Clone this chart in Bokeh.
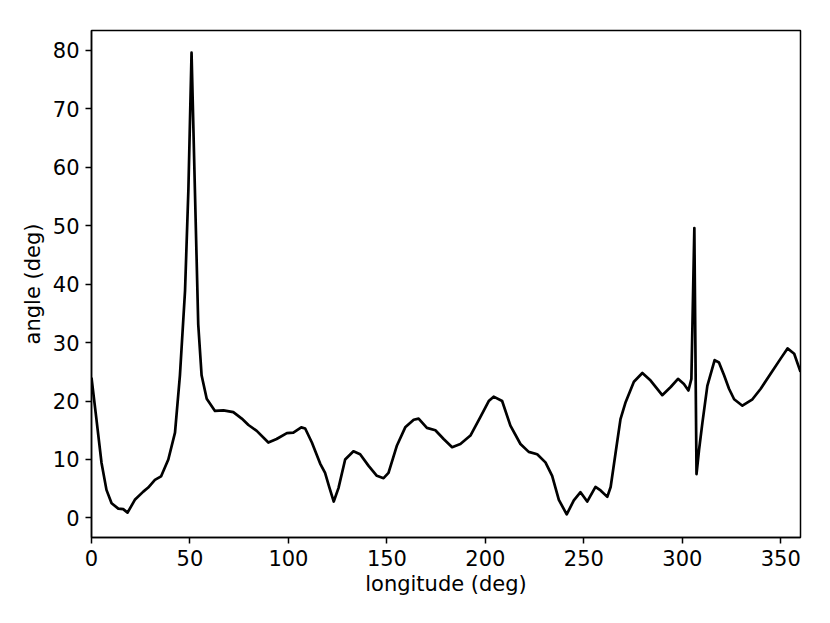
from bokeh.plotting import figure
from bokeh.models import Range1d, FixedTicker
from bokeh.embed import file_html
from bokeh.resources import INLINE

longitude = [0.0, 2.5, 5.1, 7.6, 10.2, 13.6, 16.1, 18.3, 22.0, 26.3, 28.8, 32.2, 35.3, 39.0,
             42.4, 44.9, 47.5, 49.2, 50.8, 52.5, 54.2, 55.9, 58.5, 62.7, 67.0, 72.0, 76.3,
             79.7, 83.9, 89.8, 94.0, 99.2, 102.5, 106.5, 108.5, 111.9, 116.1, 118.6, 120.8,
             123.0, 125.4, 128.8, 133.0, 136.4, 140.7, 144.9, 148.3, 150.8, 155.1, 159.3,
             163.6, 166.1, 170.3, 174.6, 178.8, 183.1, 187.3, 192.4, 197.5, 201.7, 204.2,
             208.5, 212.7, 217.8, 222.0, 226.3, 230.5, 233.9, 237.3, 241.3, 244.9, 248.3,
             251.7, 255.9, 258.5, 261.9, 263.6, 266.1, 268.6, 271.2, 275.4, 279.7, 283.9,
             289.8, 294.1, 297.8, 300.8, 303.1, 304.6, 306.1, 307.2, 308.5, 310.2, 312.7,
             316.4, 318.6, 321.2, 323.7, 326.3, 330.5, 335.6, 339.8, 344.9, 350.0, 353.4,
             356.8, 360.0]
angle = [24.0, 16.9, 9.4, 4.8, 2.5, 1.6, 1.5, 0.9, 3.1, 4.5, 5.2, 6.5, 7.1, 10.0,
         14.6, 24.4, 38.9, 56.2, 79.6, 56.2, 33.1, 24.4, 20.4, 18.3, 18.4, 18.1, 17.0,
         15.9, 14.9, 12.9, 13.5, 14.5, 14.6, 15.5, 15.3, 12.9, 9.3, 7.7, 5.2,
         2.8, 5.1, 10.0, 11.4, 10.9, 8.9, 7.2, 6.8, 7.7, 12.4, 15.5,
         16.8, 17.0, 15.4, 15.0, 13.5, 12.1, 12.65, 14.1, 17.3, 20.0, 20.75,
         20.0, 15.8, 12.65, 11.3, 10.9, 9.5, 7.2, 3.1, 0.6, 3.0, 4.4,
         2.8, 5.3, 4.7, 3.6, 5.3, 11.1, 16.9, 19.8, 23.3, 24.8, 23.5,
         21.0, 22.4, 23.8, 22.9, 21.8, 23.8, 49.6, 7.5, 11.7, 16.3, 22.6,
         27.0, 26.6, 24.4, 22.1, 20.3, 19.2, 20.3, 22.1, 24.7, 27.3, 29.0,
         28.1, 25.0]

x_ticks = [0, 50, 100, 150, 200, 250, 300, 350]
y_ticks = [0, 10, 20, 30, 40, 50, 60, 70, 80]

FONT = "DejaVu Sans"

p = figure(width=820, height=607, output_backend="svg", toolbar_location=None,
           x_range=Range1d(0, 360), y_range=Range1d(-3.35, 83.4),
           min_border_left=91, min_border_right=20, min_border_top=30, min_border_bottom=70)

p.line(longitude, angle, line_color="black", line_width=2.7, line_join="round")

p.xgrid.visible = False
p.ygrid.visible = False
p.outline_line_color = "black"
p.outline_line_width = 1.5
p.background_fill_color = "white"
p.border_fill_color = "white"

p.xaxis.ticker = FixedTicker(ticks=x_ticks)
p.yaxis.ticker = FixedTicker(ticks=y_ticks)
p.xaxis.axis_label = "longitude (deg)"
p.yaxis.axis_label = "angle (deg)"

for ax in (p.xaxis[0], p.yaxis[0]):
    ax.axis_line_color = "black"
    ax.axis_line_width = 1.5
    ax.major_tick_line_color = "black"
    ax.major_tick_line_width = 1.5
    ax.major_tick_out = 6
    ax.major_tick_in = 0
    ax.minor_tick_line_color = None
    ax.major_label_standoff = 6
    ax.major_label_text_font = FONT
    ax.major_label_text_font_size = "21px"
    ax.major_label_text_color = "black"
    ax.axis_label_text_font = FONT
    ax.axis_label_text_font_size = "21px"
    ax.axis_label_text_font_style = "normal"
    ax.axis_label_text_color = "black"

p.xaxis.axis_label_standoff = 3
p.yaxis.axis_label_standoff = 5

open("out.html", "w").write(file_html(p, INLINE))
